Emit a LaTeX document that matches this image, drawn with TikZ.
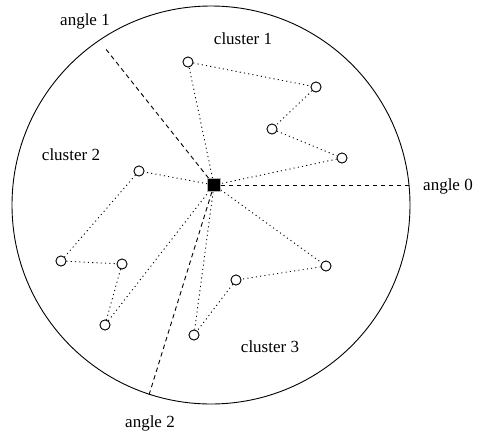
\documentclass[tikz,border=0pt]{standalone}
\usepackage{fontspec}
\setmainfont{Liberation Serif}
\begin{document}
\begin{tikzpicture}[x=1pt,y=-1pt,
  pt/.style={circle,draw,fill=white,line width=0.8pt,minimum size=10pt,inner sep=0pt},
  hub/.style={rectangle,fill=black,draw=gray!60,line width=0.6pt,minimum size=13pt,inner sep=0pt},
  lbl/.style={font=\fontsize{17}{20}\selectfont,inner sep=0pt},
  link/.style={line width=0.9pt,dash pattern=on 1.1pt off 3.2pt},
  ray/.style={line width=0.9pt,dash pattern=on 4.5pt off 3.5pt}]
\useasboundingbox (0,0) rectangle (477,437);
\draw[line width=0.9pt] (211,205) circle (199);
% ray end points on circle
\coordinate (e0) at (410,185);
\coordinate (e1) at (105,48);
\coordinate (e2) at (149,395);
% hub
\node[hub] (s) at (214,185) {};
% cluster 1
\node[pt] (a1) at (188,62) {};
\node[pt] (a2) at (316,87) {};
\node[pt] (a3) at (272,129) {};
\node[pt] (a4) at (342,158) {};
% cluster 2
\node[pt] (b1) at (139,171) {};
\node[pt] (b2) at (61,261) {};
\node[pt] (b3) at (122,264) {};
\node[pt] (b4) at (105,325) {};
% cluster 3
\node[pt] (c1) at (326,266) {};
\node[pt] (c2) at (236,280) {};
\node[pt] (c3) at (194,335) {};
% rays
\draw[ray] (s) -- (e0);
\draw[ray] (s) -- (e1);
\draw[ray] (s) -- (e2);
% links
\draw[link] (s) -- (a1) -- (a2) -- (a3) -- (a4) -- (s);
\draw[link] (s) -- (b1) -- (b2) -- (b3) -- (b4) -- (s);
\draw[link] (s) -- (c1) -- (c2) -- (c3) -- (s);
% redraw nodes on top
\foreach \n in {a1,a2,a3,a4,b1,b2,b3,b4,c1,c2,c3}
  \node[pt] at (\n) {};
\node[hub] at (s) {};
% labels
\node[lbl] (t1) at (85,21) {angle 1};
\node[lbl] (t2) at (243,39) {cluster 1};
\node[lbl] (t3) at (71,155) {cluster 2};
\node[lbl] (t4) at (448,186) {angle 0};
\node[lbl] (t5) at (270,347) {cluster 3};
\node[lbl] (t6) at (150,423) {angle 2};
\end{tikzpicture}
\end{document}
